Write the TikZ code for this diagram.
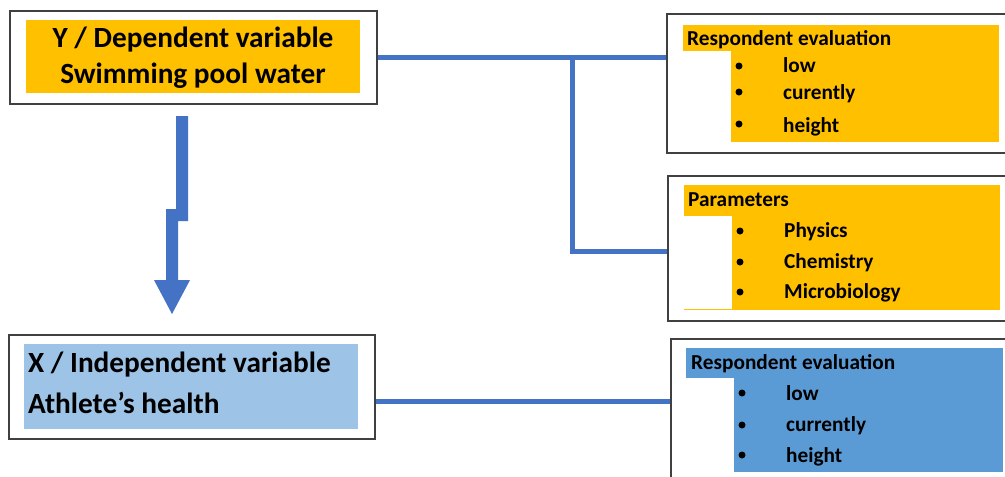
\documentclass[tikz,border=0pt]{standalone}
\usepackage{fontspec}
\setmainfont{Carlito}
\definecolor{orng}{HTML}{FFC000}
\definecolor{lblue}{HTML}{9DC3E6}
\definecolor{mblue}{HTML}{5B9BD5}
\definecolor{linkblue}{HTML}{4472C4}
\begin{document}
\begin{tikzpicture}[x=1pt,y=-1pt,
  frame/.style={draw=black!75, line width=1.5pt, fill=white, inner sep=0pt, anchor=north west},
  link/.style={draw=linkblue, line width=5pt},
  big/.style={font=\fontsize{29.3}{34}\selectfont\bfseries, inner sep=0pt},
  small/.style={font=\fontsize{21.3}{25}\selectfont\bfseries, inner sep=0pt, anchor=base west},
  dot/.style={circle, fill=black, inner sep=0pt, minimum size=7pt}]
\useasboundingbox (0,0) rectangle (1005,477);
\clip (0,0) rectangle (1005,477);
\fill[white] (0,0) rectangle (1005,477);

% Y box
\node[frame, minimum width=367pt, minimum height=93pt] (ybox) at (9,10) {};
\fill[orng] (26,20) rectangle (360,93);
\node[big, anchor=base] (y1) at (193,47) {Y / Dependent variable};
\node[big, anchor=base] (y2) at (193,83) {Swimming pool water};

% arrow
\fill[linkblue] (176,116) -- (188,116) -- (188,221) -- (178,221) -- (178,280) -- (190,280) -- (172,314) -- (154,280) -- (166,280) -- (166,209) -- (176,209) -- cycle;

% X box
\node[frame, minimum width=366pt, minimum height=104pt] (xbox) at (8,334) {};
\fill[lblue] (24,344) rectangle (358,429);
\node[big, anchor=base west] (x1) at (28,372) {X / Independent variable};
\node[big, anchor=base west] (x2) at (28,413) {Athlete’s health};

% right box 1
\node[frame, minimum width=350pt, minimum height=139pt] (r1) at (666,13) {};
\fill[orng] (683,25) rectangle (999,51);
\fill[orng] (731,51) rectangle (999,142);
\node[small] (r1h) at (687,45) {Respondent evaluation};
\node[dot] (r1d1) at (739,66) {};
\node[dot] (r1d2) at (739,92) {};
\node[dot] (r1d3) at (739,124) {};
\node[small] (r1a) at (783,72) {low};
\node[small] (r1b) at (783,99) {curently};
\node[small] (r1c) at (783,132) {height};

% right box 2
\node[frame, minimum width=350pt, minimum height=145pt] (r2) at (667,175) {};
\fill[orng] (684,185) rectangle (1000,216);
\fill[orng] (732,216) rectangle (1000,310);
\fill[orng] (684,308.8) rectangle (732,310);
\node[small] (r2h) at (688,206) {Parameters};
\node[dot] (r2d1) at (740,231) {};
\node[dot] (r2d2) at (740,262) {};
\node[dot] (r2d3) at (740,292) {};
\node[small] (r2a) at (784,237) {Physics};
\node[small] (r2b) at (784,268) {Chemistry};
\node[small] (r2c) at (784,298) {Microbiology};

% right box 3
\node[frame, minimum width=350pt, minimum height=160pt] (r3) at (670,338) {};
\fill[mblue] (686,348) rectangle (1003,378);
\fill[mblue] (734,378) rectangle (1003,472);
\node[small] (r3h) at (691,369) {Respondent evaluation};
\node[dot] (r3d1) at (742,393) {};
\node[dot] (r3d2) at (742,425) {};
\node[dot] (r3d3) at (742,455) {};
\node[small] (r3a) at (786,400) {low};
\node[small] (r3b) at (786,431) {currently};
\node[small] (r3c) at (786,462) {height};

% connectors
\coordinate (j1) at (572,56.5);
\coordinate (j2) at (572,251);
\coordinate (c3) at (0,401);
\draw[link] (ybox.east) -- (ybox.east -| r1.west);
\draw[link] (j1) -- (j2) -- (j2 -| r2.west);
\draw[link] (xbox.east |- c3) -- (c3 -| r3.west);
\end{tikzpicture}
\end{document}
